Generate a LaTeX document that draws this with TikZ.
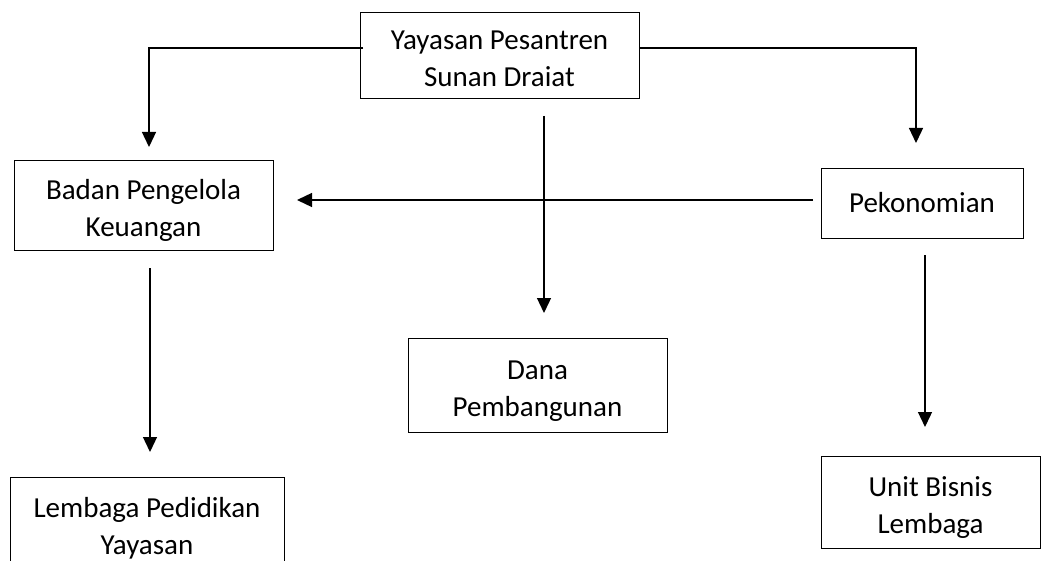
\documentclass[tikz,border=0pt]{standalone}
\usepackage{fontspec}
\setmainfont{Carlito}
\usetikzlibrary{arrows.meta}

\tikzset{
  orgbox/.style={draw=black, line width=0.8pt, align=center, inner sep=0pt,
    font=\fontsize{29}{37}\selectfont},
  twoline/.style={orgbox, text height=63pt, text depth=0pt},
  link/.style={draw=black, line width=1.3pt},
  arrow/.style={link, -{Triangle[length=15pt,width=14pt]}}
}

\begin{document}
\begin{tikzpicture}[x=1pt, y=-1pt]
  \useasboundingbox (0,0) rectangle (1048,561);
  \clip (0,0) rectangle (1048,561);
  % boxes
  \node[twoline, minimum width=279, minimum height=86] (yayasan) at (499.5,55)
    {Yayasan Pesantren\\Sunan Draiat};
  \node[twoline, minimum width=259, minimum height=90] (badan) at (143.5,205)
    {Badan Pengelola\\Keuangan};
  \node[orgbox, minimum width=202, minimum height=70] (pekonomian) at (922,203)
    {Pekonomian};
  \node[twoline, minimum width=259, minimum height=94] (dana) at (537.5,385)
    {Dana\\Pembangunan};
  \node[twoline, minimum width=219, minimum height=92] (bisnis) at (930.5,502)
    {Unit Bisnis\\Lembaga};
  \node[twoline, minimum width=274, minimum height=91] (lembaga) at (147,522.5)
    {Lembaga Pedidikan\\Yayasan};
  % free ends of the connectors
  \coordinate (yayasan-l) at (363,48);
  \coordinate (yayasan-r) at (639,48);
  \coordinate (yayasan-b) at (544,116);
  \coordinate (badan-in) at (149,147);
  \coordinate (badan-b) at (150,268);
  \coordinate (badan-r) at (297,200);
  \coordinate (pekonomian-in) at (916,143);
  \coordinate (pekonomian-l) at (813,200);
  \coordinate (pekonomian-b) at (925,255);
  \coordinate (dana-in) at (544,313);
  \coordinate (bisnis-in) at (925,427);
  \coordinate (lembaga-in) at (150,452);
  % connectors
  \draw[arrow] (yayasan-l) -| (badan-in);
  \draw[arrow] (yayasan-r) -| (pekonomian-in);
  \draw[arrow] (yayasan-b) -- (dana-in);
  \draw[arrow] (pekonomian-l) -- (badan-r);
  \draw[arrow] (badan-b) -- (lembaga-in);
  \draw[arrow] (pekonomian-b) -- (bisnis-in);
\end{tikzpicture}
\end{document}
